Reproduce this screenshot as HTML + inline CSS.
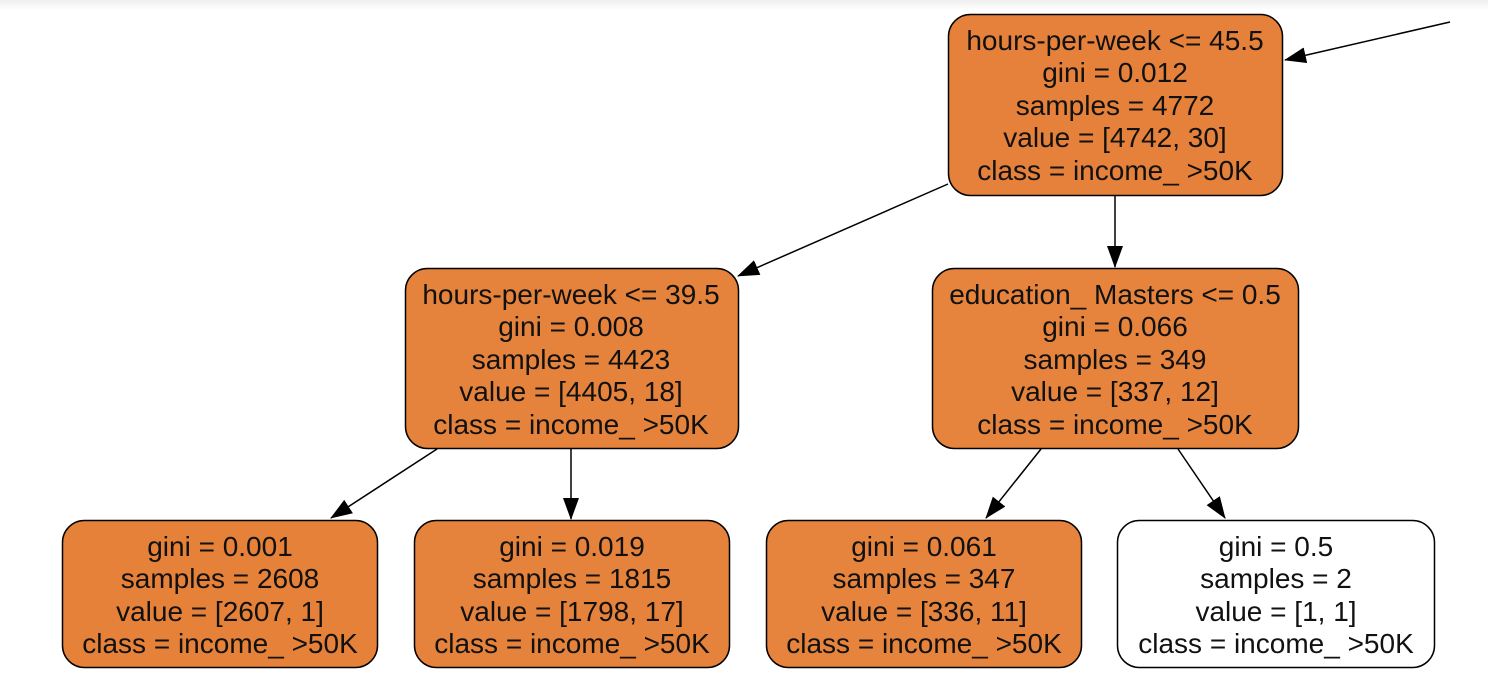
<!DOCTYPE html>
<html><head><style>
html,body{margin:0;padding:0;background:#fff;}
svg{display:block;}
text{font-family:"Liberation Sans",Arial,sans-serif;font-size:28px;fill:#111;text-anchor:middle;}
</style></head><body>
<svg width="1488" height="678" viewBox="0 0 1488 678" xmlns="http://www.w3.org/2000/svg">
<defs>
<marker id="a" markerWidth="22" markerHeight="16" refX="21" refY="8" orient="auto" markerUnits="userSpaceOnUse">
<path d="M0,0 L22,8 L0,16 z" fill="#000"/>
</marker>
<linearGradient id="g" x1="0" y1="0" x2="0" y2="1"><stop offset="0" stop-color="#eeeeee"/><stop offset="1" stop-color="#ffffff"/></linearGradient>
</defs>
<rect x="0" y="0" width="1488" height="10" fill="url(#g)"/>
<g stroke="#000" stroke-width="1.5" fill="none">
<line x1="1450" y1="22" x2="1285" y2="60" marker-end="url(#a)"/>
<line x1="948" y1="184" x2="738" y2="276" marker-end="url(#a)"/>
<line x1="1115" y1="196" x2="1115" y2="267" marker-end="url(#a)"/>
<line x1="437" y1="449" x2="331" y2="518" marker-end="url(#a)"/>
<line x1="571" y1="449" x2="571" y2="519" marker-end="url(#a)"/>
<line x1="1041" y1="449" x2="986" y2="518" marker-end="url(#a)"/>
<line x1="1178" y1="449" x2="1225" y2="518" marker-end="url(#a)"/>
</g>
<g stroke="#000" stroke-width="1.5">
<rect x="948.5" y="14.5" width="334" height="181" rx="22" fill="#e5813a"/>
<rect x="405.5" y="268.5" width="333" height="180" rx="22" fill="#e5823b"/>
<rect x="932.5" y="268.5" width="366" height="180" rx="22" fill="#e6843e"/>
<rect x="62.5" y="520.5" width="315" height="147" rx="22" fill="#e58139"/>
<rect x="414.5" y="520.5" width="315" height="147" rx="22" fill="#e5823b"/>
<rect x="766.5" y="520.5" width="315" height="147" rx="22" fill="#e6843d"/>
<rect x="1117.5" y="520.5" width="317" height="147" rx="22" fill="#ffffff"/>
</g>
<g>
<text x="1115" y="50">hours-per-week &lt;= 45.5</text>
<text x="1115" y="82">gini = 0.012</text>
<text x="1115" y="115">samples = 4772</text>
<text x="1115" y="147">value = [4742, 30]</text>
<text x="1115" y="180">class = income_ &gt;50K</text>

<text x="571" y="304">hours-per-week &lt;= 39.5</text>
<text x="571" y="336">gini = 0.008</text>
<text x="571" y="369">samples = 4423</text>
<text x="571" y="401">value = [4405, 18]</text>
<text x="571" y="434">class = income_ &gt;50K</text>

<text x="1115" y="304">education_ Masters &lt;= 0.5</text>
<text x="1115" y="336">gini = 0.066</text>
<text x="1115" y="369">samples = 349</text>
<text x="1115" y="401">value = [337, 12]</text>
<text x="1115" y="434">class = income_ &gt;50K</text>

<text x="220" y="556">gini = 0.001</text>
<text x="220" y="588">samples = 2608</text>
<text x="220" y="621">value = [2607, 1]</text>
<text x="220" y="653">class = income_ &gt;50K</text>

<text x="572" y="556">gini = 0.019</text>
<text x="572" y="588">samples = 1815</text>
<text x="572" y="621">value = [1798, 17]</text>
<text x="572" y="653">class = income_ &gt;50K</text>

<text x="924" y="556">gini = 0.061</text>
<text x="924" y="588">samples = 347</text>
<text x="924" y="621">value = [336, 11]</text>
<text x="924" y="653">class = income_ &gt;50K</text>

<text x="1276" y="556">gini = 0.5</text>
<text x="1276" y="588">samples = 2</text>
<text x="1276" y="621">value = [1, 1]</text>
<text x="1276" y="653">class = income_ &gt;50K</text>
</g>
</svg>
</body></html>
